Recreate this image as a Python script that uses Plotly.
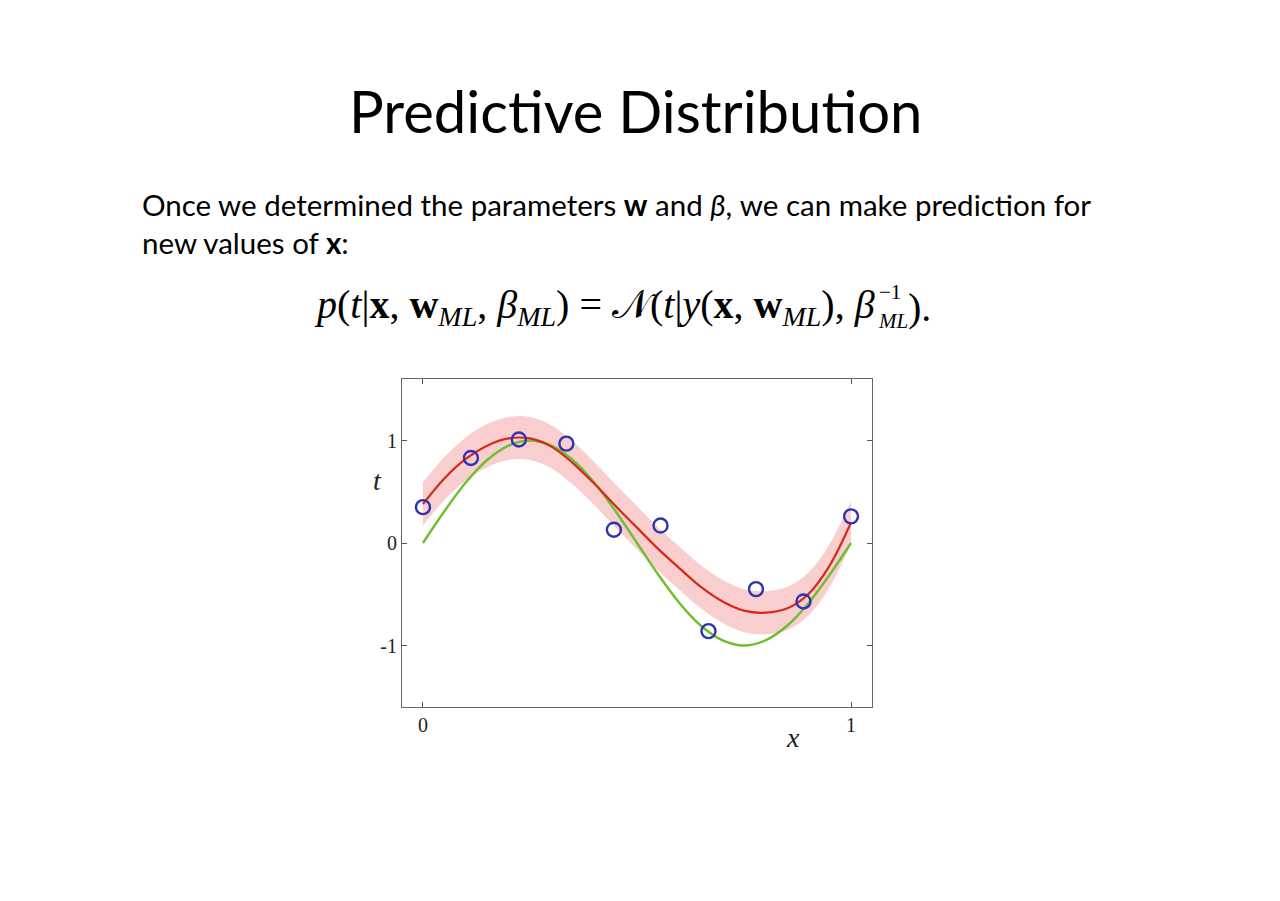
import plotly.graph_objects as go

# ---- data ----
x_obs = [0.0, 0.112, 0.224, 0.335, 0.446, 0.555, 0.667, 0.778, 0.889, 1.0]
t_obs = [0.35, 0.83, 1.01, 0.97, 0.13, 0.17, -0.86, -0.45, -0.57, 0.26]

x_curve = [0.00, 0.05, 0.10, 0.15, 0.20, 0.25, 0.30, 0.35, 0.40, 0.45, 0.50,
           0.55, 0.60, 0.65, 0.70, 0.75, 0.80, 0.85, 0.90, 0.95, 1.00]
t_pred = [0.38, 0.63, 0.82, 0.95, 1.02, 1.02, 0.94, 0.78, 0.58, 0.36, 0.15,
          -0.06, -0.25, -0.43, -0.57, -0.66, -0.68, -0.64, -0.50, -0.22, 0.20]
t_true = [0.00, 0.31, 0.59, 0.81, 0.95, 1.00, 0.95, 0.81, 0.59, 0.31, 0.00,
          -0.31, -0.59, -0.81, -0.95, -1.00, -0.95, -0.81, -0.59, -0.31, 0.00]
band_sd = 0.21

x_ticks = [0, 1]
x_tick_labels = ["0", "1"]
y_ticks = [-1, 0, 1]
y_tick_labels = ["-1", "0", "1"]

upper = [v + band_sd for v in t_pred]
lower = [v - band_sd for v in t_pred]

W, H, OFF = 1280, 901, 8  # page has an 8px body margin


def px(x):
    return (x - OFF) / W


def py(y):
    return 1 - (y - OFF) / H


fig = go.Figure()
fig.add_trace(go.Scatter(x=x_curve, y=upper, mode="lines", line=dict(width=0, shape="spline"),
                         hoverinfo="skip", showlegend=False))
fig.add_trace(go.Scatter(x=x_curve, y=lower, mode="lines", line=dict(width=0, shape="spline"),
                         fill="tonexty", fillcolor="#f8cece", hoverinfo="skip", showlegend=False))
fig.add_trace(go.Scatter(x=x_curve, y=t_true, mode="lines",
                         line=dict(color="#6dbf2e", width=2.4, shape="spline"), showlegend=False))
fig.add_trace(go.Scatter(x=x_curve, y=t_pred, mode="lines",
                         line=dict(color="#d42a1e", width=2.2, shape="spline"), showlegend=False))
fig.add_trace(go.Scatter(x=x_obs, y=t_obs, mode="markers",
                         marker=dict(symbol="circle-open", size=14, color="#3033b0",
                                     line=dict(width=2.4, color="#3033b0")),
                         showlegend=False))

serif = "Liberation Serif"
sans = "Lato"


def ann(text, x, y, size, family, xanchor="center", color="black"):
    return dict(text=text, x=px(x), y=py(y), xref="paper", yref="paper",
                xanchor=xanchor, yanchor="middle", showarrow=False,
                font=dict(family=family, size=size, color=color))


formula_main = ("<i>p</i>(<i>t</i>|<b>x</b>, <b>w</b><sub><i>ML</i></sub>, "
                "<i>β</i><sub><i>ML</i></sub>) = 𝒩(<i>t</i>|<i>y</i>(<b>x</b>, "
                "<b>w</b><sub><i>ML</i></sub>), <i>β</i>")

fig.update_layout(
    width=W, height=H,
    margin=dict(l=0, r=0, t=0, b=0),
    paper_bgcolor="white", plot_bgcolor="white",
    xaxis=dict(domain=[px(402), px(872)], range=[-0.049, 1.049],
               tickvals=x_ticks, ticktext=x_tick_labels, ticks="inside", ticklen=5,
               tickcolor="#555", showline=True, linecolor="#666", linewidth=1.2,
               mirror="allticks", showgrid=False, zeroline=False,
               tickfont=dict(family=serif, size=20, color="#222")),
    yaxis=dict(domain=[py(707), py(379)], range=[-1.6, 1.6],
               tickvals=y_ticks, ticktext=y_tick_labels, ticks="inside", ticklen=5,
               tickcolor="#555", showline=True, linecolor="#666", linewidth=1.2,
               mirror="allticks", showgrid=False, zeroline=False,
               tickfont=dict(family=serif, size=20, color="#222")),
    annotations=[
        ann("Predictive Distribution", 635, 111, 58, sans),
        ann("Once we determined the parameters <b>w</b> and <i>β</i>, we can make prediction for",
            140, 205, 29.5, sans, xanchor="left"),
        ann("new values of <b>x</b>:", 140, 242, 29.5, sans, xanchor="left"),
        ann(formula_main, 877, 307, 40, serif, xanchor="right"),
        ann("−1", 877, 292, 21, serif, xanchor="left"),
        ann("<i>ML</i>", 876, 321, 21, serif, xanchor="left"),
        ann(").", 906, 307, 40, serif, xanchor="left"),
        ann("<i>t</i>", 377, 481, 28, serif, color="#222"),
        ann("<i>x</i>", 793, 737, 28, serif, color="#222"),
    ],
)

fig.write_html("out.html")
